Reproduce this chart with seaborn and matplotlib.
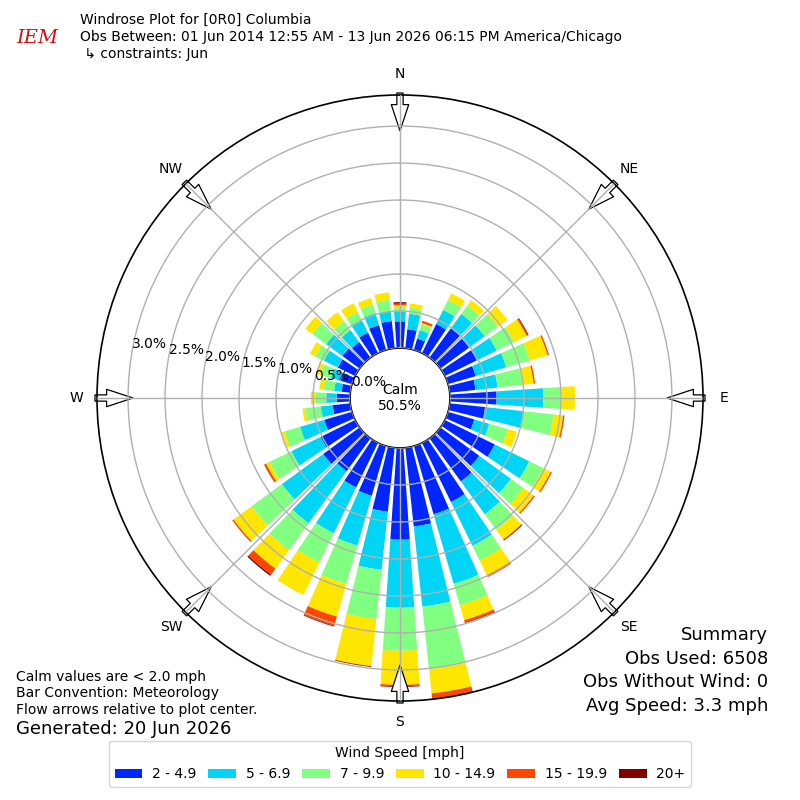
import numpy as np
import pandas as pd
import matplotlib
matplotlib.use('Agg')
import matplotlib.pyplot as plt
import seaborn as sns
from matplotlib.patches import Patch

# wind directions (deg, where wind comes from) and speed bins
directions = list(range(0, 360, 10))
speed_bins = ['2 - 4.9', '5 - 6.9', '7 - 9.9', '10 - 14.9', '15 - 19.9', '20+']
bin_colors = ['#0026ff', '#00d5f5', '#80ff80', '#ffe600', '#ff4600', '#800000']

# percent of obs per direction, one list per speed bin
pct_2_5 = [0.36, 0.26, 0.16, 0.44, 0.49, 0.48, 0.48, 0.39, 0.35, 0.63, 0.48, 0.37,
           0.75, 0.65, 0.72, 0.89, 0.96, 1.07, 1.24, 0.87, 0.70, 0.67, 0.55, 0.61,
           0.52, 0.39, 0.24, 0.18, 0.12, 0.16, 0.26, 0.29, 0.26, 0.31, 0.35, 0.37]
pct_5_7 = [0.13, 0.21, 0.12, 0.21, 0.24, 0.26, 0.30, 0.43, 0.30, 0.63, 0.52, 0.21,
           0.52, 0.53, 0.55, 0.66, 0.98, 1.09, 0.92, 0.79, 0.70, 0.69, 0.87, 0.69,
           0.44, 0.34, 0.16, 0.14, 0.10, 0.14, 0.21, 0.27, 0.20, 0.18, 0.17, 0.14]
pct_7_10 = [0.05, 0.08, 0.08, 0.15, 0.14, 0.22, 0.26, 0.33, 0.34, 0.25, 0.41, 0.26,
            0.21, 0.21, 0.26, 0.22, 0.30, 0.85, 0.58, 0.67, 0.54, 0.44, 0.45, 0.51,
            0.33, 0.22, 0.21, 0.15, 0.14, 0.14, 0.13, 0.23, 0.15, 0.13, 0.12, 0.15]
pct_10_15 = [0.04, 0.06, 0.02, 0.10, 0.09, 0.16, 0.19, 0.25, 0.15, 0.18, 0.13, 0.13,
             0.11, 0.17, 0.16, 0.22, 0.21, 0.33, 0.46, 0.64, 0.46, 0.49, 0.31, 0.30,
             0.05, 0.04, 0.04, 0.06, 0.06, 0.07, 0.08, 0.12, 0.15, 0.13, 0.09, 0.10]
pct_15_20 = [0.02, 0.00, 0.03, 0.00, 0.00, 0.00, 0.02, 0.02, 0.02, 0.00, 0.02, 0.00,
             0.02, 0.02, 0.01, 0.03, 0.03, 0.07, 0.02, 0.00, 0.13, 0.00, 0.10, 0.02,
             0.03, 0.00, 0.00, 0.00, 0.00, 0.00, 0.00, 0.00, 0.00, 0.00, 0.00, 0.00]
pct_20p = [0.02, 0.00, 0.00, 0.00, 0.00, 0.00, 0.01, 0.00, 0.00, 0.00, 0.00, 0.00,
           0.00, 0.00, 0.01, 0.00, 0.01, 0.01, 0.01, 0.01, 0.01, 0.00, 0.02, 0.00,
           0.00, 0.00, 0.00, 0.00, 0.00, 0.00, 0.00, 0.00, 0.00, 0.00, 0.00, 0.00]

ring_ticks = [0.0, 0.5, 1.0, 1.5, 2.0, 2.5, 3.0]
compass = ['N', 'NE', 'E', 'SE', 'S', 'SW', 'W', 'NW']
calm_pct = 50.5

df = pd.DataFrame({'dir': directions, speed_bins[0]: pct_2_5, speed_bins[1]: pct_5_7,
                   speed_bins[2]: pct_7_10, speed_bins[3]: pct_10_15,
                   speed_bins[4]: pct_15_20, speed_bins[5]: pct_20p})

sns.set_style('white')
plt.rcParams['font.family'] = ['DejaVu Sans']
plt.rcParams['text.color'] = 'black'
plt.rcParams['xtick.color'] = 'black'
plt.rcParams['ytick.color'] = 'black'
plt.rcParams['ytick.labelcolor'] = 'black'

fig = plt.figure(figsize=(8, 8), dpi=100)
ax = fig.add_axes([0.12125, 0.12375, 0.7575, 0.7575], projection='polar')
ax.set_theta_zero_location('N')
ax.set_theta_direction(-1)

rmax = df[speed_bins].sum(axis=1).max()
hole = 50.0 / 253.0 * rmax
ax.set_ylim(0, rmax)
ax.set_rorigin(-hole)

theta = np.deg2rad(df['dir'].values)
width = np.deg2rad(7.8)
bottom = np.zeros(len(df))
for name, col in zip(speed_bins, bin_colors):
    vals = df[name].values
    ax.bar(theta, vals, width=width, bottom=bottom, color=col, edgecolor='none',
           linewidth=0, align='center', zorder=1)
    bottom = bottom + vals

ax.set_axisbelow(False)
ax.grid(True, color='#b0b0b0', linewidth=1.0)
ax.set_xticks(np.deg2rad(np.arange(0, 360, 45)))
ax.set_xticklabels([])
ax.set_yticks(ring_ticks)
ax.set_yticklabels(['%.1f%%' % v for v in ring_ticks], fontsize=10, color='black')
ax.set_rlabel_position(280)
for sp in ax.spines.values():
    sp.set_color('black')
    sp.set_linewidth(1.2)


def px2r(p):
    # pixel distance from plot center -> radial data value
    return p / 303.0 * (rmax + hole) - hole


for i, lab in enumerate(compass):
    ang = np.deg2rad(i * 45)
    ax.text(ang, px2r(324), lab, ha='center', va='center', fontsize=10, clip_on=False)
    ax.annotate('', xy=(ang, px2r(267)), xytext=(ang, px2r(305)), annotation_clip=False,
                zorder=2,
                arrowprops=dict(arrowstyle='simple,head_length=1.9,head_width=1.25,tail_width=0.45',
                                fc='white', ec='black', lw=0.9, shrinkA=0, shrinkB=0))

ax.text(0.5, 0.5, 'Calm\n%.1f%%' % calm_pct, transform=ax.transAxes, ha='center',
        va='center', fontsize=10)

# header
fig.text(0.02, 0.953, 'IEM', color='#d01010', fontsize=14, family='serif',
         style='italic', ha='left', va='center')
fig.text(0.1, 0.975, 'Windrose Plot for [0R0] Columbia', fontsize=10, va='center')
fig.text(0.1, 0.954, 'Obs Between: 01 Jun 2014 12:55 AM - 13 Jun 2026 06:15 PM America/Chicago',
         fontsize=10, va='center')
fig.text(0.1, 0.933, ' \u21b3 constraints: Jun', fontsize=10, va='center')

# footer notes
fig.text(0.02, 0.154, 'Calm values are < 2.0 mph', fontsize=10, va='center')
fig.text(0.02, 0.134, 'Bar Convention: Meteorology', fontsize=10, va='center')
fig.text(0.02, 0.1125, 'Flow arrows relative to plot center.', fontsize=10, va='center')
fig.text(0.02, 0.089, 'Generated: 20 Jun 2026', fontsize=13, va='center')

fig.text(0.96, 0.206, 'Summary', fontsize=13, ha='right', va='center')
fig.text(0.96, 0.176, 'Obs Used: 6508', fontsize=13, ha='right', va='center')
fig.text(0.96, 0.147, 'Obs Without Wind: 0', fontsize=13, ha='right', va='center')
fig.text(0.96, 0.118, 'Avg Speed: 3.3 mph', fontsize=13, ha='right', va='center')

handles = [Patch(facecolor=c, edgecolor='none') for c in bin_colors]
fig.legend(handles, speed_bins, loc='lower center', bbox_to_anchor=(0.5, 0.008), ncol=6,
           title='Wind Speed [mph]', fontsize=10, title_fontsize=10, frameon=True,
           handlelength=2.0, handleheight=0.6, handletextpad=0.7, columnspacing=0.85)

fig.savefig('out.png', dpi=100)
